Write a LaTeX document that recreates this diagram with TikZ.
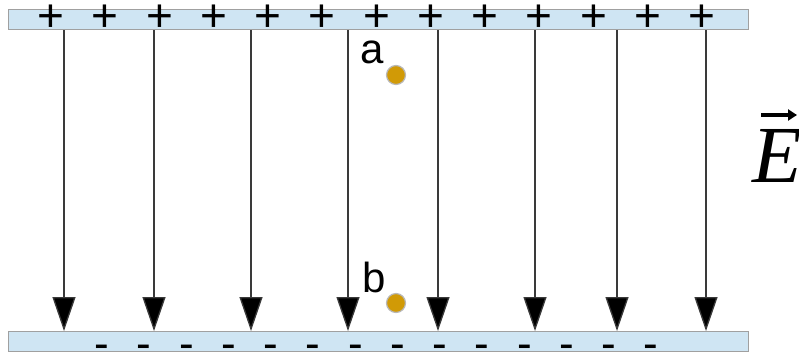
\documentclass[tikz,border=0pt]{standalone}
\usepackage{fontspec}
\newfontfamily\lab{Liberation Sans}
\newfontfamily\serifit{Liberation Serif}[ItalicFont=* Italic]
\usetikzlibrary{arrows.meta}
\definecolor{platefill}{HTML}{CFE5F3}
\definecolor{plateedge}{HTML}{A0A0A0}
\definecolor{dotfill}{HTML}{D19A06}
\definecolor{dotedge}{HTML}{B8B8B8}
\definecolor{fieldline}{HTML}{3A3A3A}
\begin{document}
\begin{tikzpicture}[x=1pt,y=-1pt,
  plate/.style={draw=plateedge, fill=platefill, line width=1.2pt, minimum width=740pt, minimum height=20pt, inner sep=0pt, anchor=north west},
  plus/.style={font=\lab\fontsize{46}{46}\selectfont, inner sep=0pt},
  minus/.style={font=\lab\fontsize{44}{44}\selectfont, inner sep=0pt},
  fieldarrow/.style={draw=fieldline, line width=1.3pt, -{Triangle[width=23pt,length=34pt,fill=black]}},
  charge/.style={circle, draw=dotedge, fill=dotfill, line width=1.2pt, minimum size=19pt, inner sep=0pt},
  ptlabel/.style={font=\lab\fontsize{42}{42}\selectfont, inner sep=0pt},
  vecarrow/.style={line width=4pt, -{Triangle[width=11pt,length=9pt]}}
]
\useasboundingbox (0,0) rectangle (799,354);
\node[plate] (top) at (8,9) {};
\node[plate] (bot) at (8,331) {};
% plus signs
\foreach \i in {0,...,12} {
  \node[plus] (p\i) at ({51+54.25*\i},18) {+};
}
% minus signs
\foreach \i in {0,...,13} {
  \node[minus] (m\i) at ({102+42.25*\i},352) {-};
}
% field lines
\foreach \x [count=\k] in {64,154,251,348,438,535,617,706} {
  \coordinate (s\k) at (\x,0);
  \draw[fieldarrow] (top.south -| s\k) -- (bot.north -| s\k);
}
% charges
\node[charge] (a) at (396,75) {};
\node[charge] (b) at (396,303) {};
\node[ptlabel] (la) at (372,52) {a};
\node[ptlabel] (lb) at (374,277) {b};
% field label
\node[inner sep=0pt, anchor=base west, font=\serifit\itshape\fontsize{81}{81}\selectfont] (E) at (752,182) {E};
\coordinate (v1) at (761,115);
\coordinate (v2) at (797,115);
\draw[vecarrow] (v1) -- (v2);
\end{tikzpicture}
\end{document}
